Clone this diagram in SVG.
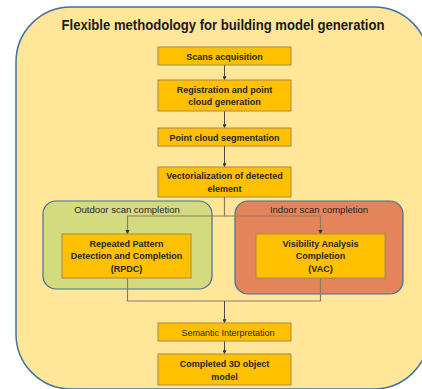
<svg xmlns="http://www.w3.org/2000/svg" width="422" height="389" viewBox="0 0 422 389">
<style>
.box{fill:#FFC000;stroke:#A8884A;stroke-width:1}
.t{font-family:"Liberation Sans",Arial,sans-serif;font-size:9px;font-weight:bold;fill:#262626;text-anchor:middle}
.r{font-weight:normal}
.lbl{font-family:"Liberation Sans",Arial,sans-serif;font-size:9.5px;fill:#262626;text-anchor:middle}
.c{fill:none;stroke:#4a4a4a;stroke-width:1}
.h{fill:none;stroke:#8a7d60;stroke-width:1.2}
</style>
<defs>
<marker id="a" viewBox="0 0 6 6" refX="5" refY="3" markerWidth="4" markerHeight="4" orient="auto">
<path d="M0,0 L6,3 L0,6 z" fill="#333"/>
</marker>
</defs>
<g id="outer">
<rect x="16" y="7" width="413" height="382" rx="55" ry="55" fill="#FFE699" stroke="#41719C" stroke-width="1.5"/>
<text x="223" y="30" font-family="'Liberation Sans',Arial,sans-serif" font-size="14" font-weight="bold" fill="#1a1a1a" text-anchor="middle" textLength="323" lengthAdjust="spacingAndGlyphs">Flexible methodology for building model generation</text>
</g>
<g id="outdoor">
<rect x="43" y="201" width="169" height="88" rx="13" ry="13" fill="#D4DB7E" stroke="#41719C" stroke-width="1.2"/>
<text class="lbl" x="127" y="213">Outdoor scan completion</text>
</g>
<g id="indoor">
<rect x="235" y="201" width="168" height="93" rx="13" ry="13" fill="#E4845A" stroke="#41719C" stroke-width="1.2"/>
<text class="lbl" x="319" y="213">Indoor scan completion</text>
</g>
<g id="connectors">
<line class="c" x1="224.5" y1="65" x2="224.5" y2="79.5" marker-end="url(#a)"/>
<line class="c" x1="224.5" y1="111" x2="224.5" y2="127.5" marker-end="url(#a)"/>
<line class="c" x1="224.5" y1="146" x2="224.5" y2="166.5" marker-end="url(#a)"/>
<polyline class="h" points="224.5,197 224.5,216 127.5,216 127.5,233.5" marker-end="url(#a)"/>
<polyline class="h" points="224.5,216 320.5,216 320.5,233.5" marker-end="url(#a)"/>
<polyline class="h" points="127.5,278 127.5,301 320.5,301 320.5,278"/>
<line class="c" x1="224.5" y1="301" x2="224.5" y2="322.5" marker-end="url(#a)"/>
<line class="c" x1="224.5" y1="341" x2="224.5" y2="353.5" marker-end="url(#a)"/>
</g>
<g id="scans">
<rect class="box" x="158" y="47" width="133" height="18"/>
<text class="t" x="224.5" y="59.5">Scans acquisition</text>
</g>
<g id="registration">
<rect class="box" x="158" y="80" width="133" height="31"/>
<text class="t" x="224.5" y="93">Registration and point</text>
<text class="t" x="224.5" y="105">cloud generation</text>
</g>
<g id="segmentation">
<rect class="box" x="158" y="128" width="133" height="18"/>
<text class="t" x="224.5" y="140.5">Point cloud segmentation</text>
</g>
<g id="vectorialization">
<rect class="box" x="158" y="167" width="133" height="30"/>
<text class="t" x="224.5" y="179">Vectorialization of detected</text>
<text class="t" x="224.5" y="191.5">element</text>
</g>
<g id="rpdc">
<rect class="box" x="62" y="234" width="129" height="44"/>
<text class="t" x="126.5" y="246.5">Repeated Pattern</text>
<text class="t" x="126.5" y="259">Detection and Completion</text>
<text class="t" x="126.5" y="272">(RPDC)</text>
</g>
<g id="vac">
<rect class="box" x="256" y="234" width="129" height="44"/>
<text class="t" x="320.5" y="246.5">Visibility Analysis</text>
<text class="t" x="320.5" y="259">Completion</text>
<text class="t" x="320.5" y="272">(VAC)</text>
</g>
<g id="semantic">
<rect class="box" x="158" y="323" width="133" height="18"/>
<text class="t r" x="228" y="335.5">Semantic Interpretation</text>
</g>
<g id="completed">
<rect class="box" x="158" y="354" width="133" height="31"/>
<text class="t" x="224.5" y="367">Completed 3D object</text>
<text class="t" x="224.5" y="379.5">model</text>
</g>
</svg>
